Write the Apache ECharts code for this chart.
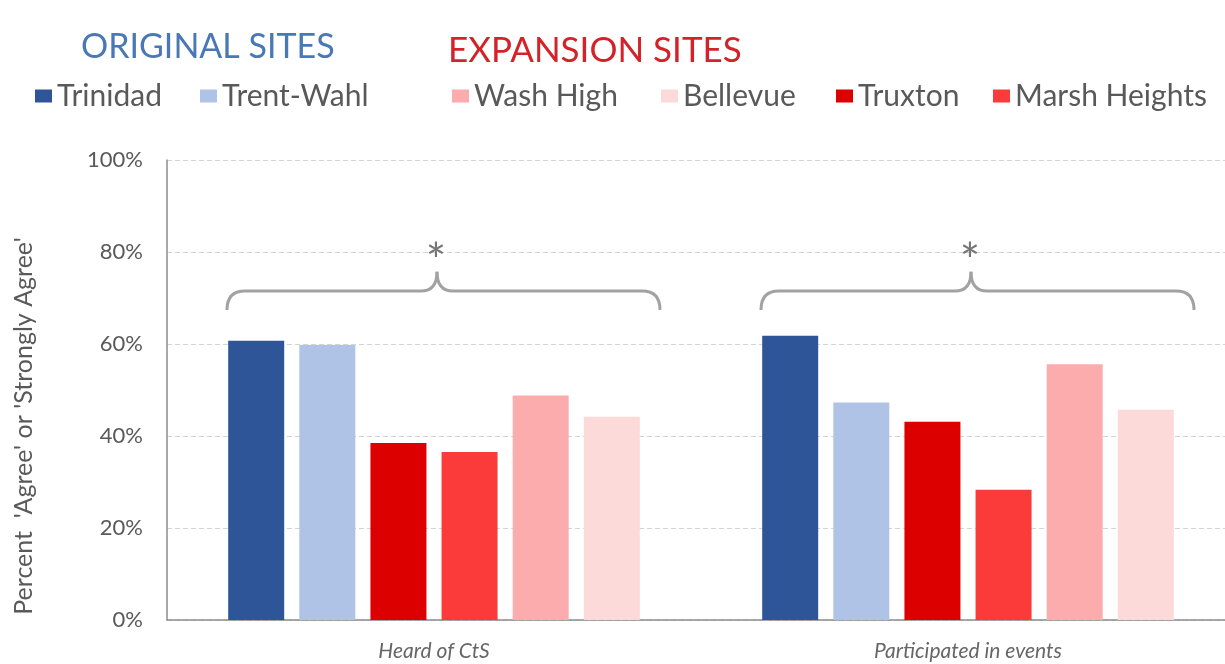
<!DOCTYPE html>
<html>
<head>
<meta charset="utf-8">
<script src="https://cdn.jsdelivr.net/npm/echarts@6/dist/echarts.min.js"></script>
<style>
  html, body { margin: 0; padding: 0; background: #fff; }
  #chart { width: 1225px; height: 664px; }
</style>
</head>
<body>
<div id="chart"></div>
<script>
// Survey categories along the x axis
const categories = ['Heard of CtS', 'Participated in events'];

// Share answering 'Agree' or 'Strongly Agree', per site (%)
const trinidad     = [60.7, 61.8];
const trentWahl    = [59.8, 47.3];
const truxton      = [38.5, 43.1];
const marshHeights = [36.5, 28.3];
const washHigh     = [48.8, 55.6];
const bellevue     = [44.2, 45.7];

// Y axis ticks
const yTicks = [0, 20, 40, 60, 80, 100];

const FONT = 'Lato, "Open Sans", sans-serif';
const GREY = '#595959';

const sites = [
  { name: 'Trinidad',      data: trinidad,     color: '#2e5597' },
  { name: 'Trent-Wahl',    data: trentWahl,    color: '#aec3e5' },
  { name: 'Truxton',       data: truxton,      color: '#dc0000' },
  { name: 'Marsh Heights', data: marshHeights, color: '#fb3a3a' },
  { name: 'Wash High',     data: washHigh,     color: '#fcacac' },
  { name: 'Bellevue',      data: bellevue,     color: '#fddada' }
];

// One legend block per item so the entries sit under their group headings
const legendSpots = [
  { name: 'Trinidad',      left: 35 },
  { name: 'Trent-Wahl',    left: 200 },
  { name: 'Wash High',     left: 452 },
  { name: 'Bellevue',      left: 661 },
  { name: 'Truxton',       left: 836 },
  { name: 'Marsh Heights', left: 993 }
];

const chart = echarts.init(document.getElementById('chart'), null, { renderer: 'canvas' });

const option = {
  backgroundColor: '#fff',
  animation: false,
  title: [
    { text: 'ORIGINAL SITES', left: 76, top: 25,
      textStyle: { color: '#4a78b6', fontSize: 34, fontWeight: 'normal', fontFamily: FONT } },
    { text: 'EXPANSION SITES', left: 443, top: 28,
      textStyle: { color: '#d42328', fontSize: 35, fontWeight: 'normal', fontFamily: FONT } }
  ],
  legend: legendSpots.map(s => ({
    data: [s.name],
    left: s.left,
    top: 81,
    padding: 0,
    icon: 'rect',
    itemWidth: 17,
    itemHeight: 13,
    itemGap: 6,
    selectedMode: false,
    textStyle: { color: GREY, fontSize: 30, fontFamily: FONT }
  })),
  grid: { left: 167, right: -10, top: 160, bottom: 44, outerBoundsMode: 'none' },
  xAxis: {
    type: 'category',
    data: categories,
    axisLine: { lineStyle: { color: '#8c8c8c', width: 1.5 } },
    axisTick: { show: false },
    axisLabel: { color: '#666666', fontSize: 21, fontStyle: 'italic', fontFamily: FONT, margin: 21 }
  },
  yAxis: {
    type: 'value',
    min: 0,
    max: 100,
    interval: 20,
    axisLine: { show: true, lineStyle: { color: '#8c8c8c', width: 1.5 } },
    axisTick: { show: false },
    axisLabel: {
      color: GREY, fontSize: 22, fontFamily: FONT, margin: 24,
      formatter: v => (yTicks.indexOf(v) >= 0 ? v + '%' : '')
    },
    splitLine: { lineStyle: { color: '#d4d4d4', type: [5, 3] } }
  },
  series: sites.map(s => ({
    name: s.name,
    type: 'bar',
    data: s.data,
    barWidth: 56,
    barGap: '27%',
    itemStyle: { color: s.color }
  }))
};

chart.setOption(option);

// Axis title, the curly braces and the significance stars over each category
function drawOverlay() {
  const stroke = { stroke: '#a2a2a2', lineWidth: 3, fill: null };
  const elements = [{
    type: 'text',
    x: 24,
    y: 426,
    rotation: Math.PI / 2,
    silent: true,
    style: {
      text: "Percent  'Agree' or 'Strongly Agree'",
      fill: GREY, fontSize: 25, fontFamily: FONT,
      align: 'center', verticalAlign: 'middle'
    }
  }];
  categories.forEach(c => {
    const cx = chart.convertToPixel({ xAxisIndex: 0 }, c);
    const yEnd = chart.convertToPixel({ yAxisIndex: 0 }, 67.4);
    const yFlat = chart.convertToPixel({ yAxisIndex: 0 }, 71.5);
    const yTip = chart.convertToPixel({ yAxisIndex: 0 }, 75.7);
    const yStar = chart.convertToPixel({ yAxisIndex: 0 }, 80.4);
    const L = cx - 207, R = cx + 226, M = cx + 3;
    const r = 18, t = 16;
    const curves = [
      { x1: L, y1: yEnd, cpx1: L, cpy1: yFlat, x2: L + r, y2: yFlat },
      { x1: M - t, y1: yFlat, cpx1: M, cpy1: yFlat, x2: M, y2: yTip },
      { x1: M, y1: yTip, cpx1: M, cpy1: yFlat, x2: M + t, y2: yFlat },
      { x1: R - r, y1: yFlat, cpx1: R, cpy1: yFlat, x2: R, y2: yEnd }
    ];
    curves.forEach(shape => elements.push({ type: 'bezierCurve', shape, style: stroke, silent: true }));
    [[L + r, M - t], [M + t, R - r]].forEach(([a, b]) => elements.push({
      type: 'line', shape: { x1: a, y1: yFlat, x2: b, y2: yFlat }, style: stroke, silent: true
    }));
    elements.push({
      type: 'text',
      x: M - 1,
      y: yStar + 12,
      silent: true,
      style: {
        text: '*', fill: '#767676', fontSize: 48, fontFamily: FONT,
        align: 'center', verticalAlign: 'middle'
      }
    });
  });
  chart.setOption({ graphic: elements });
}
drawOverlay();
</script>
</body>
</html>
